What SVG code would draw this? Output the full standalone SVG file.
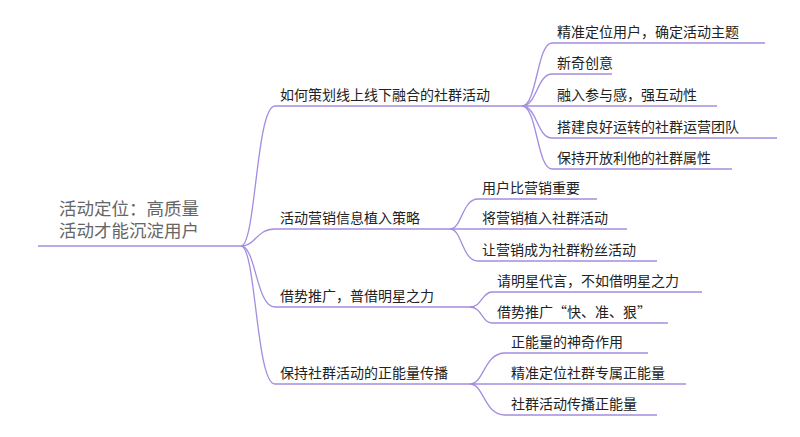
<svg xmlns="http://www.w3.org/2000/svg" width="800" height="437" viewBox="0 0 800 437">
<style>
text{font-family:"Noto Sans CJK SC","Liberation Sans",sans-serif;font-size:14px;fill:#222}
.root{font-size:17.5px;fill:#666}
path{fill:none;stroke:#a58de0;stroke-width:1.3}
</style>
<rect width="800" height="437" fill="#fff"/>
<g id="connectors">
<path d="M38 246H241"/>
<path d="M241 246C256 246 256 106 275 106H522"/>
<path d="M241 246C256 246 256 229 275 229H450"/>
<path d="M241 246C256 246 256 307 275 307H470"/>
<path d="M241 246C256 246 256 384 275 384H470"/>
<path d="M522 106C537 106 537 43 552 43H765"/>
<path d="M522 106C537 106 537 74 552 74H612"/>
<path d="M522 106H717"/>
<path d="M522 106C537 106 537 138 552 138H777"/>
<path d="M522 106C537 106 537 169 552 169H732"/>
<path d="M450 229C462 229 462 199 478 199H597"/>
<path d="M450 229H627"/>
<path d="M450 229C462 229 462 261 478 261H657"/>
<path d="M470 307C482 307 482 292 492 292H702"/>
<path d="M470 307C482 307 482 323 492 323H668"/>
<path d="M470 384C484 384 484 353 505 353H648"/>
<path d="M470 384H686"/>
<path d="M470 384C484 384 484 415 505 415H657"/>
</g>
<g id="root"><text class="root" x="59" y="215">活动定位：高质量</text><text class="root" x="59" y="237">活动才能沉淀用户</text></g>
<g id="n1"><text x="280" y="100">如何策划线上线下融合的社群活动</text></g>
<g id="n2"><text x="280" y="223">活动营销信息植入策略</text></g>
<g id="n3"><text x="280" y="301">借势推广，普借明星之力</text></g>
<g id="n4"><text x="280" y="378">保持社群活动的正能量传播</text></g>
<g id="n1a"><text x="557" y="37">精准定位用户，确定活动主题</text></g>
<g id="n1b"><text x="557" y="68">新奇创意</text></g>
<g id="n1c"><text x="557" y="100">融入参与感，强互动性</text></g>
<g id="n1d"><text x="557" y="132">搭建良好运转的社群运营团队</text></g>
<g id="n1e"><text x="557" y="163">保持开放利他的社群属性</text></g>
<g id="n2a"><text x="482" y="193">用户比营销重要</text></g>
<g id="n2b"><text x="482" y="223">将营销植入社群活动</text></g>
<g id="n2c"><text x="482" y="255">让营销成为社群粉丝活动</text></g>
<g id="n3a"><text x="497" y="286">请明星代言，不如借明星之力</text></g>
<g id="n3b"><text x="497" y="317">借势推广“快、准、狠”</text></g>
<g id="n4a"><text x="511" y="347">正能量的神奇作用</text></g>
<g id="n4b"><text x="511" y="378">精准定位社群专属正能量</text></g>
<g id="n4c"><text x="511" y="409">社群活动传播正能量</text></g>
</svg>
